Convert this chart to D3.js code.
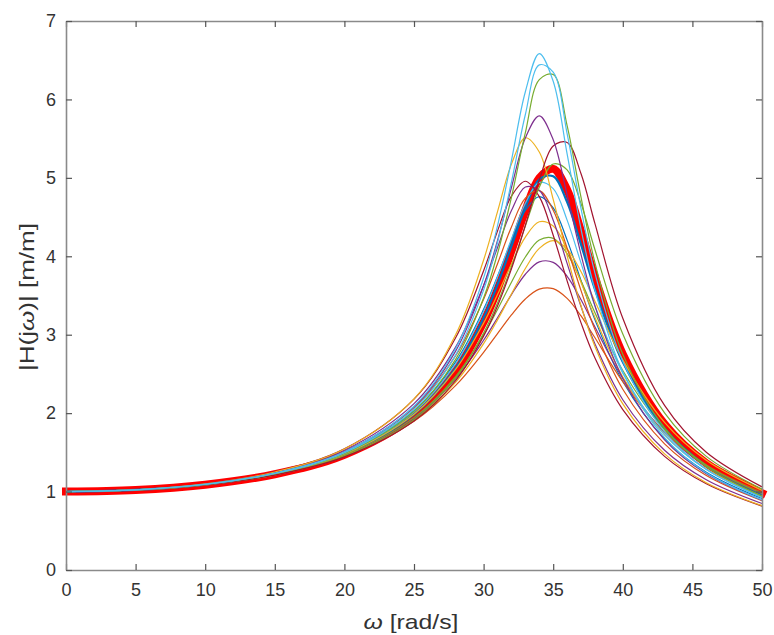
<!DOCTYPE html>
<html>
<head>
<meta charset="utf-8">
<script src="https://cdn.jsdelivr.net/npm/d3@7"></script>
<style>
  html, body { margin: 0; padding: 0; background: #fff; }
  svg { display: block; }
  text { font-family: "Liberation Sans", Arial, Helvetica, sans-serif; }
</style>
</head>
<body>
<svg id="chart" width="774" height="635"></svg>
<script>
// ---- data ----
const omega = [0, 5, 10, 15, 20, 25, 28, 30, 31, 32, 33, 34, 35, 36, 37, 38, 40, 43, 46, 50];
const xTicks = [0, 5, 10, 15, 20, 25, 30, 35, 40, 45, 50];
const yTicks = [0, 1, 2, 3, 4, 5, 6, 7];

const curveRed  = [1, 1.021, 1.088, 1.221, 1.468, 1.964, 2.540, 3.163, 3.580, 4.067, 4.582, 4.996, 5.115, 4.847, 4.318, 3.730, 2.752, 1.860, 1.362, 0.979];
const curve01 = [1, 1.022, 1.093, 1.235, 1.507, 2.088, 2.827, 3.725, 4.389, 5.221, 6.098, 6.585, 6.231, 5.306, 4.347, 3.569, 2.526, 1.688, 1.238, 0.893];
const curve02 = [1, 1.021, 1.091, 1.230, 1.494, 2.049, 2.743, 3.570, 4.176, 4.945, 5.808, 6.440, 6.347, 5.563, 4.607, 3.785, 2.661, 1.762, 1.285, 0.922];
const curve03 = [1, 1.021, 1.090, 1.227, 1.486, 2.024, 2.688, 3.467, 4.034, 4.752, 5.577, 6.252, 6.317, 5.666, 4.750, 3.917, 2.751, 1.813, 1.316, 0.942];
const curve04 = [1, 1.022, 1.093, 1.235, 1.507, 2.081, 2.794, 3.624, 4.202, 4.877, 5.509, 5.790, 5.485, 4.783, 4.022, 3.368, 2.442, 1.660, 1.226, 0.890];
const curve05 = [1, 1.020, 1.084, 1.210, 1.442, 1.899, 2.419, 2.982, 3.367, 3.839, 4.396, 4.975, 5.407, 5.451, 5.052, 4.416, 3.209, 2.098, 1.502, 1.060];
const curve06 = [1, 1.023, 1.098, 1.249, 1.543, 2.182, 3.003, 3.952, 4.569, 5.175, 5.511, 5.329, 4.726, 4.009, 3.368, 2.850, 2.118, 1.480, 1.113, 0.820];
const curve07 = [1, 1.021, 1.089, 1.224, 1.475, 1.983, 2.576, 3.216, 3.640, 4.129, 4.623, 4.981, 5.019, 4.690, 4.149, 3.578, 2.651, 1.804, 1.328, 0.959];
const curve08 = [1, 1.023, 1.098, 1.251, 1.545, 2.178, 2.964, 3.816, 4.323, 4.767, 4.957, 4.761, 4.268, 3.687, 3.151, 2.702, 2.045, 1.449, 1.099, 0.814];
const curve09 = [1, 1.022, 1.096, 1.243, 1.526, 2.121, 2.845, 3.629, 4.113, 4.583, 4.883, 4.842, 4.459, 3.909, 3.360, 2.882, 2.171, 1.527, 1.151, 0.848];
const curve10 = [1, 1.022, 1.093, 1.236, 1.507, 2.068, 2.736, 3.453, 3.905, 4.374, 4.741, 4.838, 4.588, 4.104, 3.562, 3.065, 2.304, 1.609, 1.205, 0.884];
const curve11 = [1, 1.021, 1.091, 1.228, 1.487, 2.014, 2.632, 3.299, 3.735, 4.221, 4.676, 4.942, 4.863, 4.461, 3.912, 3.369, 2.510, 1.727, 1.280, 0.930];
const curve12 = [1, 1.020, 1.085, 1.213, 1.450, 1.917, 2.449, 3.020, 3.405, 3.866, 4.385, 4.880, 5.176, 5.101, 4.671, 4.083, 3.008, 2.003, 1.449, 1.032];
const curve13 = [1, 1.021, 1.090, 1.226, 1.479, 1.986, 2.560, 3.148, 3.513, 3.900, 4.245, 4.440, 4.386, 4.093, 3.667, 3.219, 2.461, 1.723, 1.287, 0.940];
const curve14 = [1, 1.021, 1.088, 1.220, 1.464, 1.943, 2.470, 2.998, 3.322, 3.669, 3.991, 4.207, 4.229, 4.033, 3.685, 3.281, 2.543, 1.790, 1.337, 0.975];
const curve15 = [1, 1.020, 1.086, 1.214, 1.449, 1.904, 2.396, 2.886, 3.189, 3.520, 3.845, 4.101, 4.199, 4.090, 3.803, 3.426, 2.679, 1.882, 1.399, 1.015];
const curve16 = [1, 1.021, 1.088, 1.220, 1.464, 1.934, 2.440, 2.929, 3.217, 3.512, 3.771, 3.928, 3.923, 3.745, 3.446, 3.099, 2.447, 1.752, 1.321, 0.970];
const curve17 = [1, 1.021, 1.087, 1.217, 1.452, 1.897, 2.355, 2.776, 3.015, 3.252, 3.456, 3.581, 3.587, 3.463, 3.239, 2.961, 2.401, 1.757, 1.338, 0.990];
const curve18 = [1, 1.022, 1.092, 1.231, 1.494, 2.030, 2.657, 3.323, 3.745, 4.196, 4.585, 4.761, 4.616, 4.206, 3.690, 3.192, 2.403, 1.671, 1.247, 0.911];

// ---- styles (separate from data) ----
const thinSeries = [
  { values: curve07, color: "#0072BD", width: 2.2 },
  { values: curve18, color: "#0072BD", width: 1.2 },
  { values: curve16, color: "#7E2F8E", width: 1.2 },
  { values: curve17, color: "#D95319", width: 1.2 },
  { values: curve14, color: "#77AC30", width: 1.2 },
  { values: curve15, color: "#EDB120", width: 1.2 },
  { values: curve13, color: "#EDB120", width: 1.2 },
  { values: curve11, color: "#4DBEEE", width: 1.2 },
  { values: curve10, color: "#D95319", width: 1.2 },
  { values: curve09, color: "#7E2F8E", width: 1.2 },
  { values: curve08, color: "#A2142F", width: 1.2 },
  { values: curve12, color: "#77AC30", width: 1.2 },
  { values: curve06, color: "#EDB120", width: 1.2 },
  { values: curve05, color: "#A2142F", width: 1.2 },
  { values: curve04, color: "#7E2F8E", width: 1.2 },
  { values: curve03, color: "#77AC30", width: 1.2 },
  { values: curve02, color: "#4DBEEE", width: 1.2 },
  { values: curve01, color: "#4DBEEE", width: 1.2 }
];

const margin = { left: 66, top: 21, right: 12, bottom: 65 };
const W = 774, H = 635;
const pw = W - margin.left - margin.right;   // 696
const ph = H - margin.top - margin.bottom;   // 549

const svg = d3.select("#chart");
const g = svg.append("g").attr("transform", `translate(${margin.left},${margin.top})`);

const x = d3.scaleLinear().domain([0, 50]).range([0, pw]);
const y = d3.scaleLinear().domain([0, 7]).range([ph, 0]);

const line = d3.line()
  .x((d, i) => x(omega[i]))
  .y(d => y(d))
  .curve(d3.curveCatmullRom.alpha(0.5));

// red thick reference curve (drawn first)
g.append("path")
  .attr("d", line(curveRed))
  .attr("fill", "none")
  .attr("stroke", "#FF0000")
  .attr("stroke-width", 8)
  .attr("stroke-linecap", "square")
  .attr("stroke-linejoin", "round");

// thin curves
g.selectAll("path.thin")
  .data(thinSeries)
  .enter().append("path")
  .attr("class", "thin")
  .attr("d", s => line(s.values))
  .attr("fill", "none")
  .attr("stroke", s => s.color)
  .attr("stroke-width", s => s.width)
  .attr("stroke-linejoin", "round");

// axes box with inward ticks (MATLAB style)
const axisColor = "#8a8a8a";
const tickLen = 6;
const fmt = d3.format("d");

const xb = d3.axisBottom(x).tickValues(xTicks).tickFormat(fmt).tickSizeInner(-tickLen).tickSizeOuter(0).tickPadding(13);
const xt = d3.axisTop(x).tickValues(xTicks).tickSizeInner(-tickLen).tickSizeOuter(0).tickFormat("");
const yl = d3.axisLeft(y).tickValues(yTicks).tickFormat(fmt).tickSizeInner(-tickLen).tickSizeOuter(0).tickPadding(10);
const yr = d3.axisRight(y).tickValues(yTicks).tickSizeInner(-tickLen).tickSizeOuter(0).tickFormat("");

function styleAxis(sel) {
  sel.selectAll("path.domain").attr("stroke", axisColor).attr("stroke-width", 1.6);
  sel.selectAll(".tick line").attr("stroke", "#555").attr("stroke-width", 1.2);
  sel.selectAll(".tick text").attr("fill", "#333").style("font-size", "18px")
     .style("font-family", '"Liberation Sans", Arial, sans-serif');
}

g.append("g").attr("transform", `translate(0,${ph})`).call(xb).call(styleAxis);
g.append("g").call(xt).call(styleAxis);
g.append("g").call(yl).call(styleAxis);
g.append("g").attr("transform", `translate(${pw},0)`).call(yr).call(styleAxis);

// x-axis label
const xlab = svg.append("text")
  .attr("x", 411)
  .attr("y", 629)
  .attr("text-anchor", "middle")
  .attr("fill", "#333")
  .attr("textLength", 95)
  .attr("lengthAdjust", "spacingAndGlyphs")
  .style("font-size", "21px");
xlab.append("tspan").style("font-style", "italic").text("ω");
xlab.append("tspan").text(" [rad/s]");

// y-axis label
const ylab = svg.append("text")
  .attr("transform", `translate(34,297) rotate(-90)`)
  .attr("text-anchor", "middle")
  .attr("fill", "#333")
  .attr("textLength", 148)
  .attr("lengthAdjust", "spacingAndGlyphs")
  .style("font-size", "21px");
ylab.append("tspan").text("|H(j");
ylab.append("tspan").style("font-style", "italic").text("ω");
ylab.append("tspan").text(")| [m/m]");
</script>
</body>
</html>
